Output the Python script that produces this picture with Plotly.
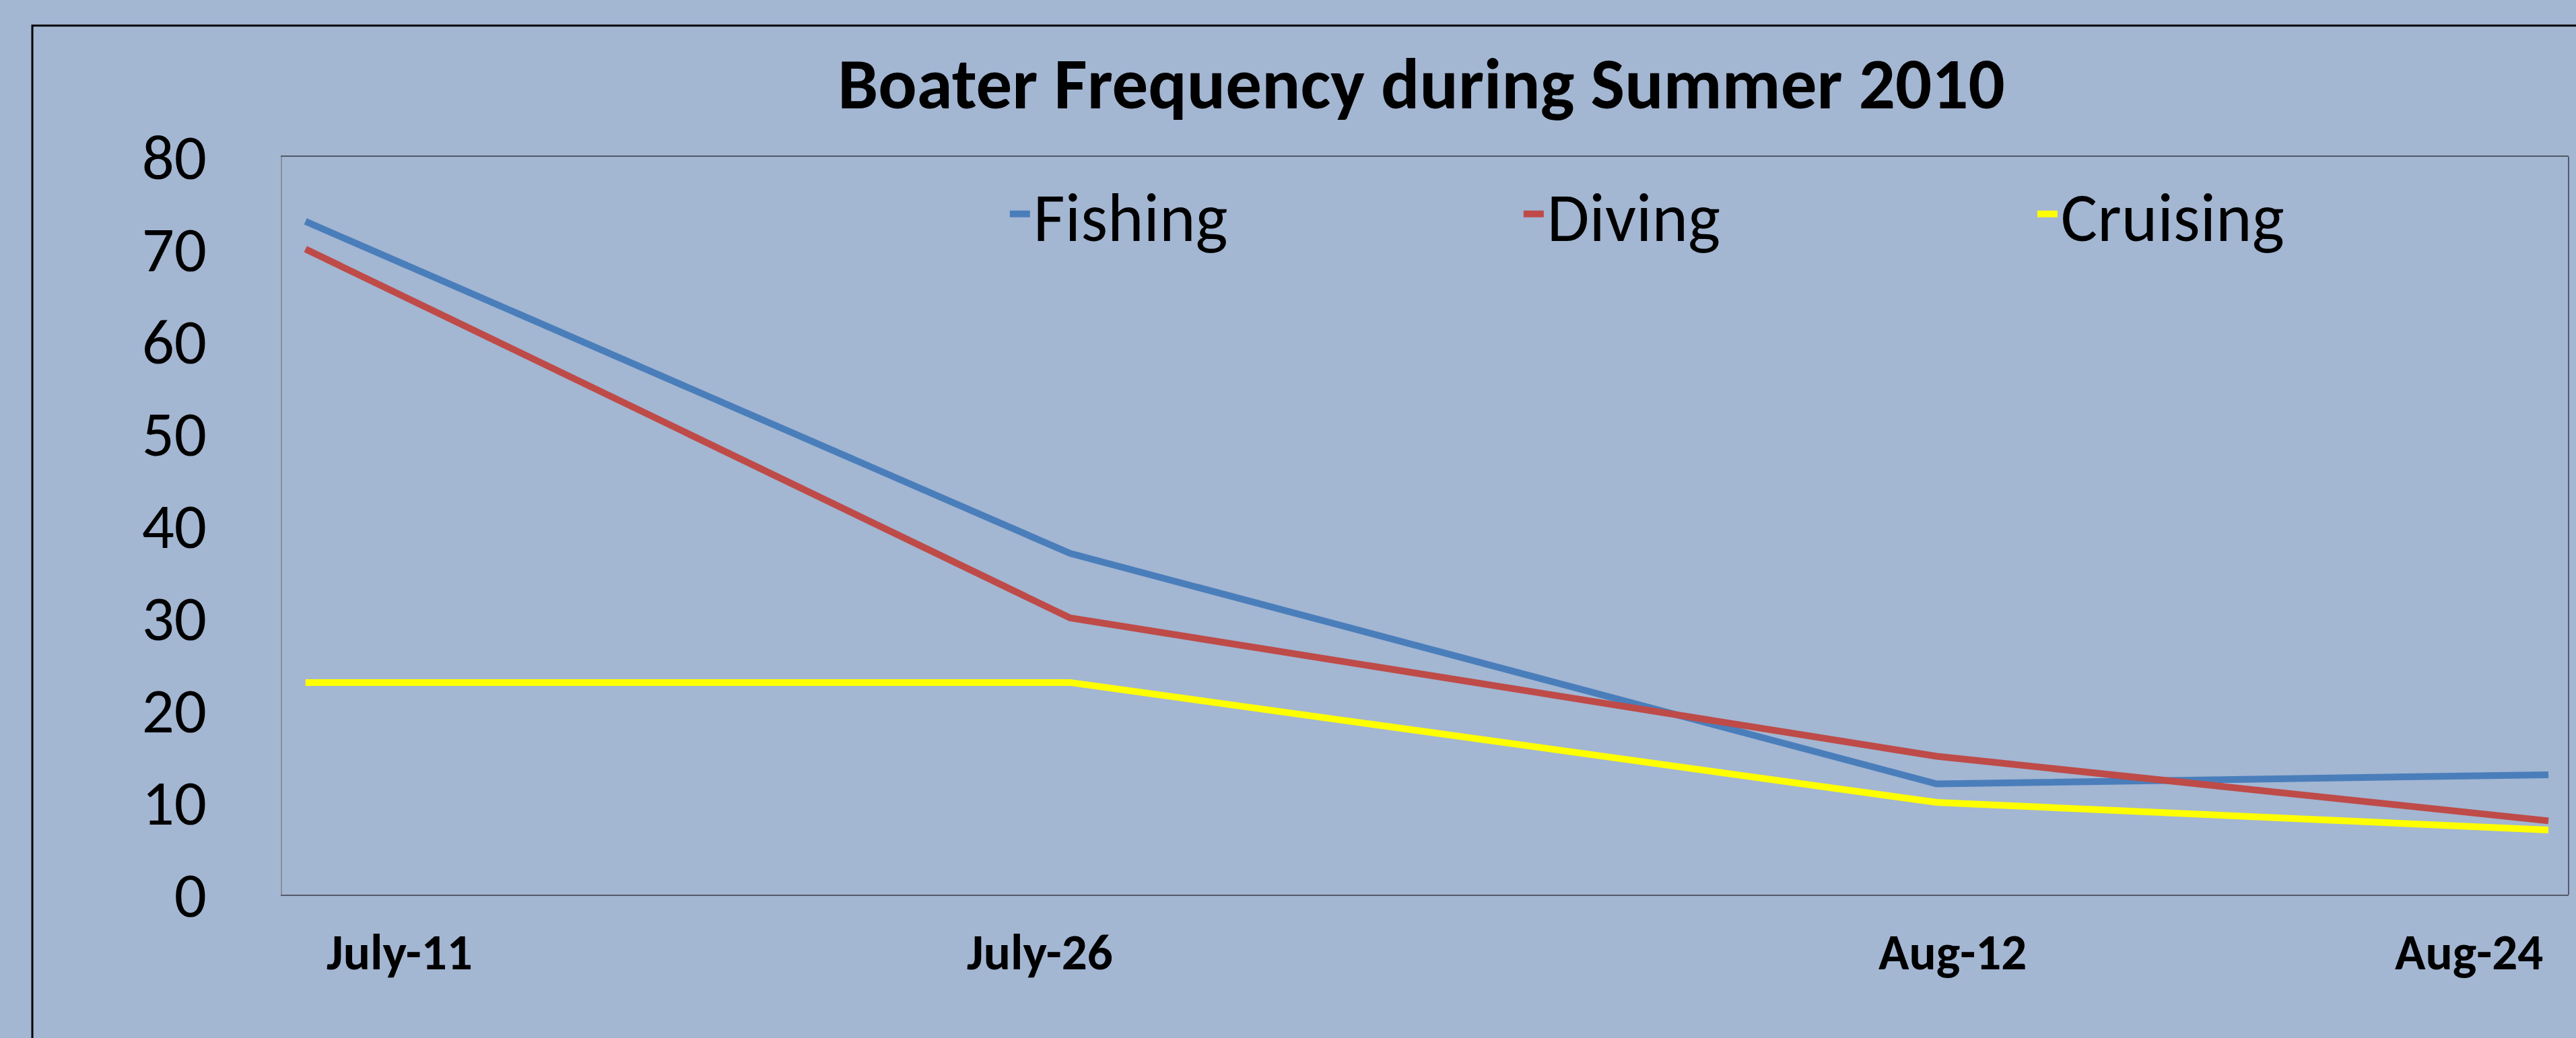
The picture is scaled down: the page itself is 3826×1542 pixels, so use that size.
import plotly.graph_objects as go

# ---- data ----
dates = ["2010-07-11", "2010-07-26", "2010-08-12", "2010-08-24"]
date_labels = ["July-11", "July-26", "Aug-12", "Aug-24"]
fishing = [73, 37, 12, 13]
diving = [70, 30, 15, 8]
cruising = [23, 23, 10, 7]

series_names = ["Fishing", "Diving", "Cruising"]
series_colors = ["#4A7EBB", "#BE4B48", "#FFFF00"]

W, H = 3826, 1542
L, R, T, B = 419, 11, 233, 213
pw, ph = W - L - R, H - T - B
BG = "#A3B6D2"
FONT = "Calibri, Carlito, Lato, sans-serif"


def px_x(p):
    return (p - L) / pw


def px_y(p):
    return (H - B - p) / ph


fig = go.Figure()
for name, vals, col in zip(series_names, [fishing, diving, cruising], series_colors):
    fig.add_trace(go.Scatter(x=dates, y=vals, mode="lines", name=name,
                             line=dict(color=col, width=10)))

# x tick labels as annotations (offset like the original)
label_shift = [140, -45, 24, -118]
for d, t, s in zip(dates, date_labels, label_shift):
    fig.add_annotation(x=d, y=px_y(1414), xref="x", yref="paper",
                       text=t, showarrow=False, xshift=s, yanchor="middle",
                       font=dict(family=FONT, size=75, color="black", weight="bold"))

# outer black frame (extends past right/bottom edges)
fig.add_shape(type="rect", xref="paper", yref="paper",
              x0=px_x(48), x1=px_x(3900), y0=px_y(1600), y1=px_y(38),
              line=dict(color="black", width=3), fillcolor="rgba(0,0,0,0)", layer="above")
# right edge of plot area
fig.add_shape(type="line", xref="paper", yref="paper", x0=1, x1=1, y0=0, y1=1,
              line=dict(color="#525A6B", width=2))

fig.update_layout(
    width=W, height=H,
    margin=dict(l=L, r=R, t=T, b=B),
    paper_bgcolor=BG, plot_bgcolor=BG,
    title=dict(text="<b>Boater Frequency during Summer 2010</b>",
               x=px_x(2111), xref="paper", xanchor="center",
               y=1 - 124 / H, yref="container", yanchor="middle",
               font=dict(family=FONT, size=107, color="black")),
    xaxis=dict(type="date", range=["2010-07-10 13:00", "2010-08-24 09:30"],
               showticklabels=False, showgrid=False, zeroline=False,
               showline=True, linecolor="#525A6B", linewidth=2, mirror=True, ticks=""),
    yaxis=dict(range=[0, 80], dtick=10, tick0=0, showgrid=False, zeroline=False,
               showline=True, linecolor="#8C8F96", linewidth=2, ticks="",
               ticklabelstandoff=91,
               tickfont=dict(family=FONT, size=95, color="black")),
    legend=dict(orientation="h", x=0.3168, xanchor="left", y=px_y(318), yanchor="middle",
                bgcolor="rgba(0,0,0,0)", entrywidth=718,
                font=dict(family=FONT, size=102, color="black")),
    showlegend=True,
)

fig.write_html("out.html", config={"displayModeBar": False},
               post_script="document.body.style.margin='0';document.body.style.overflow='hidden';")
